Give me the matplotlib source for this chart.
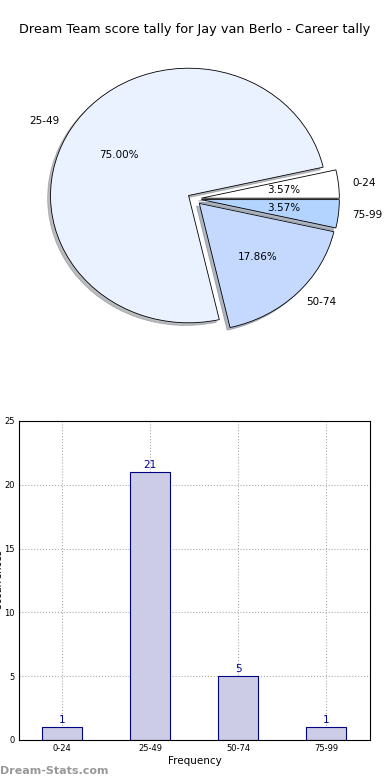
import matplotlib
matplotlib.use("Agg")
import matplotlib.pyplot as plt

# score tally data
categories = ["0-24", "25-49", "50-74", "75-99"]
counts = [1, 21, 5, 1]
pie_colors = ["#FFFFFF", "#EBF2FF", "#C5D9FF", "#B3D4FF"]

TITLE = "Dream Team score tally for Jay van Berlo - Career tally"

fig = plt.figure(figsize=(3.9, 7.8), dpi=100)

fig.text(0.5, 1 - 30 / 780, TITLE, ha="center", va="center", fontsize=9.3)

# pie
ax_pie = fig.add_axes([0.056, 0.541, 0.885, 0.408])
wedges, texts, autotexts = ax_pie.pie(
    counts,
    labels=categories,
    colors=pie_colors,
    explode=[0.05] * len(counts),
    autopct="%.2f%%",
    shadow={"ox": -0.015, "oy": -0.015, "shade": 0.5},
    startangle=0,
    labeldistance=1.1,
    pctdistance=0.6,
    wedgeprops={"edgecolor": "black", "linewidth": 0.6},
    textprops={"fontsize": 7.5},
)
ax_pie.set_aspect("auto")
ax_pie.set_xlim(-1.25, 1.25)
ax_pie.set_ylim(-1.25, 1.25)

# bar chart
ax_bar = fig.add_axes([0.0487, 0.0513, 0.9, 0.409])
x = list(range(len(categories)))
bars = ax_bar.bar(x, counts, width=0.45, color="#CCCCE6",
                  edgecolor="#000080", linewidth=0.8, zorder=2)
for xi, c in zip(x, counts):
    ax_bar.text(xi, c + 0.15, str(c), ha="center", va="bottom",
                color="#000099", fontsize=7.5)

ax_bar.set_xlim(-0.49, 3.5)
ax_bar.set_ylim(0, 25)
ax_bar.set_xticks(x)
ax_bar.set_xticklabels(categories)
ax_bar.set_yticks([0, 5, 10, 15, 20, 25])
ax_bar.tick_params(labelsize=6, length=0, pad=3)
ax_bar.grid(True, linestyle=":", color="#aaaaaa", linewidth=0.8, zorder=0)
ax_bar.set_axisbelow(True)
ax_bar.set_xlabel("Frequency", fontsize=7.5, labelpad=2)
for s in ax_bar.spines.values():
    s.set_linewidth(0.8)

fig.text(-0.004, 1 - 580 / 780, "Occurrences", rotation=90, ha="center",
         va="center", fontsize=7)

fig.text(0.0, 1 - 771 / 780, "Dream-Stats.com", ha="left", va="center",
         fontsize=8, fontweight="bold", color="#999999")

fig.savefig("out.png", dpi=100)
